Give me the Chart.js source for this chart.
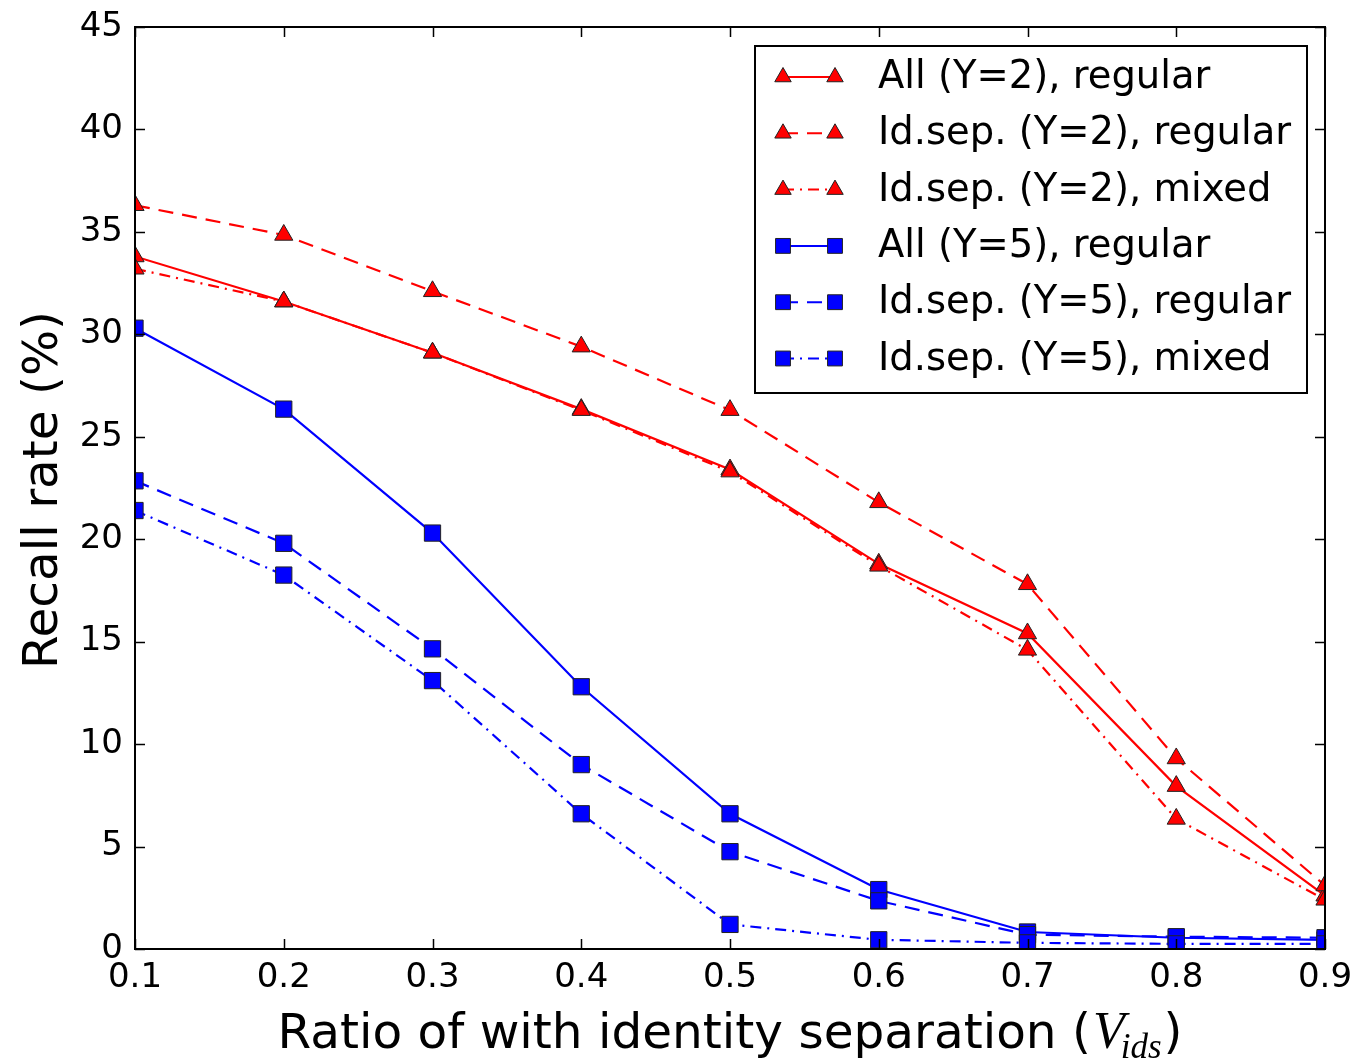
<!DOCTYPE html>
<html>
<head>
<meta charset="utf-8">
<script src="https://cdn.jsdelivr.net/npm/chart.js@4/dist/chart.umd.min.js"></script>
<style>
  html, body { margin: 0; padding: 0; background: #fff; }
  #c { display: block; }
</style>
</head>
<body>
<canvas id="c" width="1355" height="1061"></canvas>
<script>
// x categories (ratio with identity separation)
var ratios = ['0.1', '0.2', '0.3', '0.4', '0.5', '0.6', '0.7', '0.8', '0.9'];
var yTicks = [0, 5, 10, 15, 20, 25, 30, 35, 40, 45];

// recall rate (%) per series
var allY2Regular   = [33.8, 31.6, 29.1, 26.35, 23.4, 18.8, 15.4, 7.95, 2.6];
var idsepY2Regular = [36.3, 34.85, 32.1, 29.4, 26.3, 21.8, 17.8, 9.3, 3.1];
var idsepY2Mixed   = [33.2, 31.6, 29.1, 26.3, 23.3, 18.7, 14.6, 6.35, 2.4];
var allY5Regular   = [30.3, 26.35, 20.3, 12.8, 6.6, 2.9, 0.83, 0.55, 0.45];
var idsepY5Regular = [22.85, 19.8, 14.65, 9.0, 4.75, 2.35, 0.7, 0.6, 0.55];
var idsepY5Mixed   = [21.4, 18.25, 13.1, 6.6, 1.2, 0.45, 0.3, 0.25, 0.25];

var seriesNames = ['All (Y=2), regular', 'Id.sep. (Y=2), regular', 'Id.sep. (Y=2), mixed',
                   'All (Y=5), regular', 'Id.sep. (Y=5), regular', 'Id.sep. (Y=5), mixed'];

var DASH = [];
var DASHED = [15, 9];
var DASHDOT = [11, 6, 2, 6];

function mk(i, data, color, dash, marker, radius) {
  return {
    label: seriesNames[i],
    data: data,
    borderColor: color,
    backgroundColor: color,
    borderWidth: 2.2,
    borderDash: dash,
    pointStyle: marker,
    pointRadius: radius,
    pointHoverRadius: radius,
    pointBackgroundColor: color,
    pointBorderColor: '#222',
    pointBorderWidth: 1,
    tension: 0,
    fill: false,
    clip: 0,
    order: 5 - i
  };
}

var datasets = [
  mk(0, allY2Regular, '#ff0000', DASH, 'triangle', 10.5),
  mk(1, idsepY2Regular, '#ff0000', DASHED, 'triangle', 10.5),
  mk(2, idsepY2Mixed, '#ff0000', DASHDOT, 'triangle', 10.5),
  mk(3, allY5Regular, '#0000ff', DASH, 'rect', 11.5),
  mk(4, idsepY5Regular, '#0000ff', DASHED, 'rect', 11.5),
  mk(5, idsepY5Mixed, '#0000ff', DASHDOT, 'rect', 11.5)
];

// frame + inward ticks, matplotlib style
var framePlugin = {
  id: 'frame',
  afterDatasetsDraw: function(chart) {
    var ctx = chart.ctx, a = chart.chartArea;
    var xs = chart.scales.x, ys = chart.scales.y;
    ctx.save();
    ctx.strokeStyle = '#000';
    ctx.lineWidth = 1.5;
    ctx.setLineDash([]);
    for (var i = 0; i < ratios.length; i++) {
      var px = Math.round(xs.getPixelForTick(i)) + 0.5;
      ctx.beginPath();
      ctx.moveTo(px, a.bottom); ctx.lineTo(px, a.bottom - 10);
      ctx.moveTo(px, a.top); ctx.lineTo(px, a.top + 10);
      ctx.stroke();
    }
    yTicks.forEach(function(v) {
      var py = Math.round(ys.getPixelForValue(v)) + 0.5;
      ctx.beginPath();
      ctx.moveTo(a.left, py); ctx.lineTo(a.left + 10, py);
      ctx.moveTo(a.right, py); ctx.lineTo(a.right - 10, py);
      ctx.stroke();
    });
    ctx.lineWidth = 2;
    ctx.strokeRect(a.left, a.top, a.right - a.left, a.bottom - a.top);
    ctx.restore();
  }
};

// custom legend box with two markers per sample
var legendPlugin = {
  id: 'mplLegend',
  afterDraw: function(chart) {
    var ctx = chart.ctx;
    var bx = 755, by = 46, bw = 552, bh = 347;
    ctx.save();
    ctx.fillStyle = '#fff';
    ctx.fillRect(bx, by, bw, bh);
    ctx.strokeStyle = '#000';
    ctx.lineWidth = 2;
    ctx.strokeRect(bx, by, bw, bh);
    chart.data.datasets.forEach(function(ds, i) {
      var y = 77 + i * 56.3;
      ctx.strokeStyle = ds.borderColor;
      ctx.lineWidth = 2;
      ctx.setLineDash(ds.borderDash);
      ctx.beginPath();
      ctx.moveTo(783, y); ctx.lineTo(835, y);
      ctx.stroke();
      ctx.setLineDash([]);
      ctx.fillStyle = ds.pointBackgroundColor;
      ctx.strokeStyle = ds.pointBorderColor;
      ctx.lineWidth = 1;
      [783, 835].forEach(function(x) {
        Chart.helpers.drawPoint(ctx, { pointStyle: ds.pointStyle, radius: ds.pointRadius - 1, rotation: 0, borderWidth: 1 }, x, y);
      });
      ctx.fillStyle = '#000';
      ctx.font = '38.5px "DejaVu Sans"';
      ctx.textAlign = 'left';
      ctx.textBaseline = 'middle';
      ctx.fillText(ds.label, 878, y + 1);
    });
    ctx.restore();
  }
};

// axis titles (x title has a math subscript)
var titlePlugin = {
  id: 'axisTitles',
  afterDraw: function(chart) {
    var ctx = chart.ctx;
    ctx.save();
    ctx.fillStyle = '#000';
    ctx.textBaseline = 'alphabetic';
    ctx.textAlign = 'left';
    var part1 = 'Ratio of with identity separation (';
    var fSans = '48.5px "DejaVu Sans"';
    var fV = 'italic 52px "Liberation Serif"';
    var fSub = 'italic 35px "Liberation Serif"';
    ctx.font = fSans; var w1 = ctx.measureText(part1).width; var wc = ctx.measureText(')').width;
    ctx.font = fV; var wv = ctx.measureText('V').width;
    ctx.font = fSub; var ws = ctx.measureText('ids').width;
    var total = w1 + wv + ws + wc;
    var x = 730 - total / 2, base = 1048;
    ctx.font = fSans; ctx.fillText(part1, x, base); x += w1 + 2;
    ctx.font = fV; ctx.fillText('V', x, base); x += wv - 4;
    ctx.font = fSub; ctx.fillText('ids', x, base + 10); x += ws + 2;
    ctx.font = fSans; ctx.fillText(')', x, base);

    ctx.translate(57, 490);
    ctx.rotate(-Math.PI / 2);
    ctx.textAlign = 'center';
    ctx.font = fSans;
    ctx.fillText('Recall rate (%)', 0, 0);
    ctx.restore();
  }
};

function noPad(s) {
  s.paddingLeft = 0; s.paddingRight = 0; s.paddingTop = 0; s.paddingBottom = 0;
}

Chart.defaults.font.family = '"DejaVu Sans"';
Chart.defaults.color = '#000';

var ctx = document.getElementById('c').getContext('2d');
var myChart = new Chart(ctx, {
  type: 'line',
  data: { labels: ratios, datasets: datasets },
  options: {
    responsive: false,
    animation: false,
    events: [],
    layout: { padding: { top: 27, right: 30, left: 0, bottom: 0 } },
    plugins: { legend: { display: false }, tooltip: { enabled: false } },
    scales: {
      x: {
        type: 'category',
        offset: false,
        grid: { display: false, drawTicks: false },
        border: { display: false },
        ticks: { font: { size: 34 }, padding: 9, maxRotation: 0, autoSkip: false },
        afterFit: function(s) { s.height = 112; noPad(s); }
      },
      y: {
        min: 0, max: 45,
        grid: { display: false, drawTicks: false },
        border: { display: false },
        ticks: { stepSize: 5, font: { size: 34 }, padding: 12 },
        afterFit: function(s) { s.width = 135; noPad(s); }
      }
    }
  },
  plugins: [framePlugin, legendPlugin, titlePlugin]
});
</script>
</body>
</html>
